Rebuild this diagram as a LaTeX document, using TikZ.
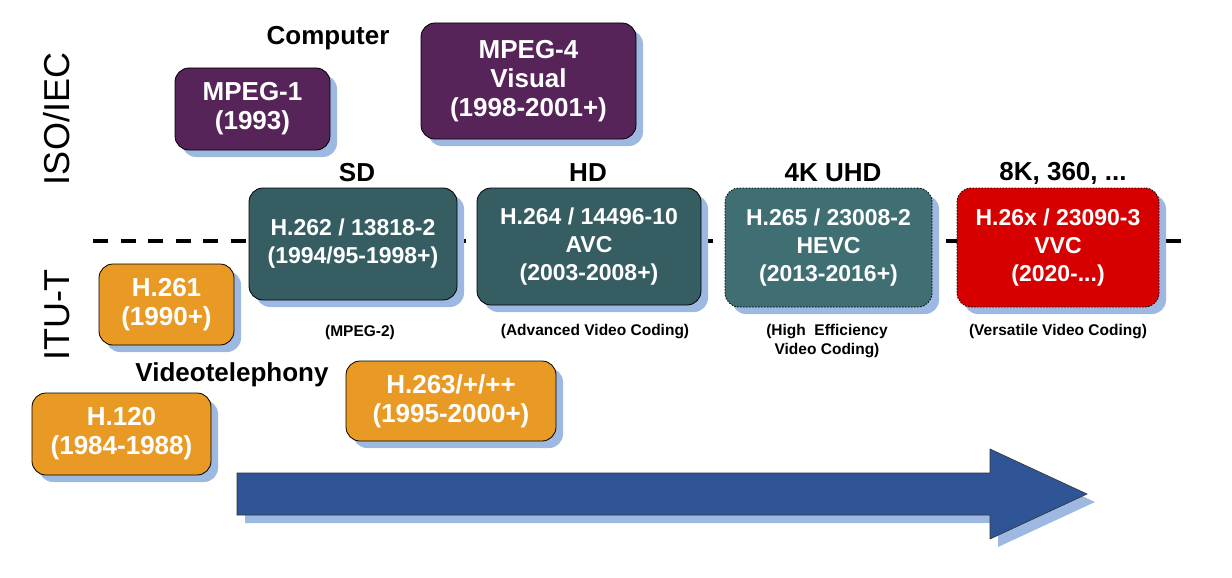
\documentclass[tikz,border=0pt]{standalone}
\usepackage{fontspec}
\setmainfont{Liberation Sans}
\usetikzlibrary{shadows}
\definecolor{purp}{RGB}{86,36,88}
\definecolor{tealA}{RGB}{54,94,98}
\definecolor{tealB}{RGB}{63,110,115}
\definecolor{orng}{RGB}{232,154,36}
\definecolor{redb}{RGB}{215,0,0}
\definecolor{blueA}{RGB}{47,85,151}
\definecolor{shadowc}{RGB}{157,185,225}
\tikzset{
  box/.style={rounded corners=14pt, draw=black, line width=0.8pt, text=white,
    inner sep=0pt, align=center, font=\bfseries\fontsize{26}{29}\selectfont,
    general shadow={fill=shadowc, shadow xshift=7pt, shadow yshift=-7pt}},
  hbox/.style={box, font=\bfseries\fontsize{23}{28}\selectfont},
  dotbox/.style={hbox, dash pattern=on 1.5pt off 1.5pt},
  lbl/.style={inner sep=0pt, font=\bfseries\fontsize{26}{30}\selectfont},
  small/.style={inner sep=0pt, align=center, font=\bfseries\fontsize{15.5}{19}\selectfont},
  org/.style={inner sep=0pt, rotate=90, font=\fontsize{36}{40}\selectfont},
  sepline/.style={line width=4pt, dash pattern=on 15pt off 12.5pt}
}
\begin{document}
\begin{tikzpicture}[x=1pt,y=-1pt]
\useasboundingbox (0,0) rectangle (1232,578);
% separator line
\coordinate (ls) at (93,241);
\coordinate (le) at (1185,241);
\draw[sepline] (ls) -- (le);
% arrow
\fill[shadowc] (245,481) -- (998,481) -- (998,457) -- (1095,502) -- (998,547) -- (998,523) -- (245,523) -- cycle;
\draw[fill=blueA, draw=black!80, line width=0.6pt] (237,473) -- (990,473) -- (990,449) -- (1087,494) -- (990,539) -- (990,515) -- (237,515) -- cycle;
% organisation labels
\node[org] (iso) at (57,119) {ISO/IEC};
\node[org] (itu) at (57,315) {ITU-T};
% ISO boxes
\node[box, fill=purp, minimum width=155pt, minimum height=82pt] (m1) at (252.5,109) {MPEG-1\\(1993)};
\node[box, fill=purp, minimum width=215pt, minimum height=116pt] (m4) at (528.5,81) {MPEG-4\\Visual\\(1998-2001+)};
% joint boxes
\node[hbox, fill=tealA, minimum width=208pt, minimum height=112pt] (h262) at (353,244) {H.262 / 13818-2\\(1994/95-1998+)};
\node[hbox, fill=tealA, minimum width=224pt, minimum height=117pt] (h264) at (589,246.5) {H.264 / 14496-10\\AVC\\(2003-2008+)};
\node[dotbox, fill=tealB, minimum width=207pt, minimum height=119pt] (h265) at (828.5,247.5) {H.265 / 23008-2\\HEVC\\(2013-2016+)};
\node[dotbox, fill=redb, minimum width=202pt, minimum height=119pt] (vvc) at (1058,247.5) {H.26x / 23090-3\\VVC\\(2020-...)};
% ITU boxes
\node[box, fill=orng, minimum width=135pt, minimum height=81pt] (h261) at (166.5,304.5) {H.261\\(1990+)};
\node[box, fill=orng, minimum width=179pt, minimum height=82pt] (h120) at (121.5,434) {H.120\\(1984-1988)};
\node[box, fill=orng, minimum width=210pt, minimum height=80pt] (h263) at (451,401) {H.263/+/++\\(1995-2000+)};
% labels
\node[lbl] (comp) at (328,38) {Computer};
\node[lbl] (sd) at (357,173) {SD};
\node[lbl] (hd) at (588,173) {HD};
\node[lbl] (uhd) at (833,173) {4K UHD};
\node[lbl] (k8) at (1063,173) {8K, 360, ...};
\node[lbl] (vt) at (232,375) {Videotelephony};
\node[small] (l2) at (360,332) {(MPEG-2)};
\node[small] (l4) at (595,332) {(Advanced Video Coding)};
\node[small] (l5) at (827,341) {(High\ \ Efficiency\\Video Coding)};
\node[small] (l6) at (1058,332) {(Versatile Video Coding)};
\end{tikzpicture}
\end{document}
